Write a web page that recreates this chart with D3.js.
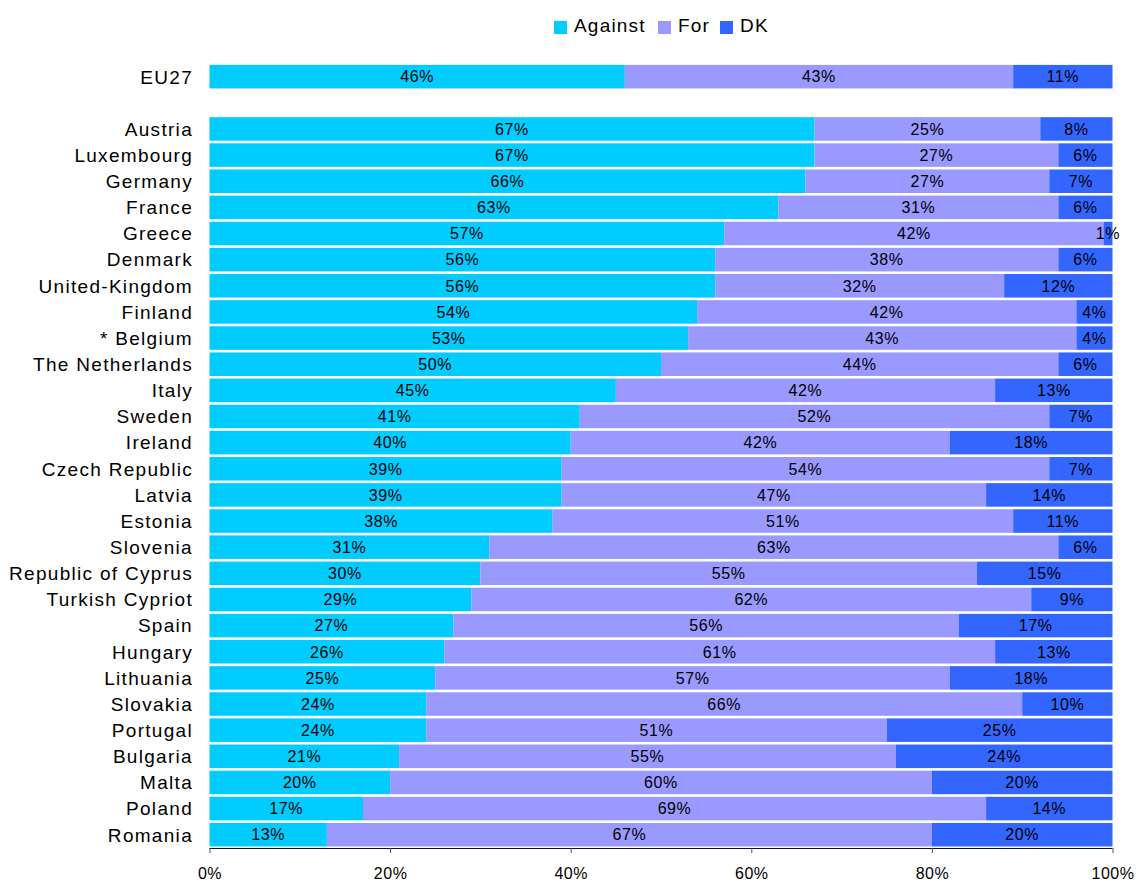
<html>
<head>
<meta charset="utf-8">
<script src="https://cdn.jsdelivr.net/npm/d3@7/dist/d3.min.js"></script>
<style>
body { margin:0; background:#fff; }
text { font-family: "Liberation Sans", Arial, sans-serif; fill:#000; }
</style>
</head>
<body>
<div id="chart"></div>
<script>

// rows top to bottom, "" is the empty slot under EU27
countries = ["EU27","","Austria","Luxembourg","Germany","France","Greece","Denmark","United-Kingdom","Finland",
  "* Belgium","The Netherlands","Italy","Sweden","Ireland","Czech Republic","Latvia","Estonia","Slovenia",
  "Republic of Cyprus","Turkish Cypriot","Spain","Hungary","Lithuania","Slovakia","Portugal","Bulgaria",
  "Malta","Poland","Romania"]
against = [46,null,67,67,66,63,57,56,56,54,53,50,45,41,40,39,39,38,31,30,29,27,26,25,24,24,21,20,17,13]
forVals = [43,null,25,27,27,31,42,38,32,42,43,44,42,52,42,54,47,51,63,55,62,56,61,57,66,51,55,60,69,67]
dk      = [11,null,8,6,7,6,1,6,12,4,4,6,13,7,18,7,14,11,6,15,9,17,13,18,10,25,24,20,14,20]
series = ["Against","For","DK"]
colors = ["#00ccff","#9999ff","#3366ff"]
xTicks = [0,20,40,60,80,100]

rows = countries.map(function(c,i){ return {name:c, Against:against[i], For:forVals[i], DK:dk[i]} })

W = 1136, H = 882
svg = d3.select("#chart").append("svg").attr("width",W).attr("height",H)

x = d3.scaleLinear().domain([0,100]).range([209.5,1112.5])
y = d3.scaleBand().domain(d3.range(countries.length)).range([63.6,847.8]).paddingInner(0.1).paddingOuter(0.05)

stack = d3.stack().keys(series)
layers = stack(rows.filter(function(d){ return d.name != "" }))

idx = {}
countries.forEach(function(c,i){ idx[c] = i })

g = svg.append("g")
g.selectAll("g.layer").data(layers).enter().append("g").attr("class","layer")
  .attr("fill",function(d,i){ return colors[i] })
  .each(function(layer){
    var key = layer.key
    d3.select(this).selectAll("rect").data(layer).enter().append("rect")
      .attr("x",function(d){ return x(d[0]) })
      .attr("y",function(d){ return y(idx[d.data.name]) })
      .attr("width",function(d){ return x(d[1]) - x(d[0]) })
      .attr("height",y.bandwidth())
    d3.select(this).selectAll("text").data(layer).enter().append("text")
      .attr("x",function(d){ return (x(d[0]) + x(d[1]))/2 })
      .attr("y",function(d){ return y(idx[d.data.name]) + y.bandwidth()/2 })
      .attr("dy","0.36em")
      .attr("text-anchor","middle")
      .attr("font-size",16).attr("letter-spacing","0.6px")
      .text(function(d){ return d.data[key] + "%" })
  })

// row labels
svg.append("g").selectAll("text").data(countries.filter(function(c){ return c != "" })).enter().append("text")
  .attr("x",193)
  .attr("y",function(d){ return y(idx[d]) + y.bandwidth()/2 })
  .attr("dy","0.36em")
  .attr("text-anchor","end")
  .attr("font-size",19).attr("letter-spacing","1.3px")
  .text(function(d){ return d })

// x axis
xAxis = d3.axisBottom(x).tickValues(xTicks).tickSize(5).tickPadding(15).tickFormat(function(d){ return d + "%" })
ax = svg.append("g").attr("transform","translate(0,848)").call(xAxis)
ax.attr("font-size",16).attr("font-family","Liberation Sans, Arial, sans-serif")
ax.select(".domain").attr("stroke","#111").attr("d","M209.5,0.5H1112.5")
ax.selectAll(".tick line").attr("stroke","#555")
ax.selectAll(".tick text").attr("fill","#000").attr("letter-spacing","0.5px")

// legend
legX = [554, 658, 720]
leg = svg.append("g").selectAll("g").data(series).enter().append("g")
  .attr("transform",function(d,i){ return "translate(" + legX[i] + ",20)" })
leg.append("rect").attr("width",13).attr("height",13).attr("y",1).attr("fill",function(d,i){ return colors[i] })
leg.append("text").attr("x",20).attr("y",5).attr("dy","0.36em").attr("font-size",19).attr("letter-spacing","1.2px")
  .text(function(d){ return d })

</script>
</body>
</html>
